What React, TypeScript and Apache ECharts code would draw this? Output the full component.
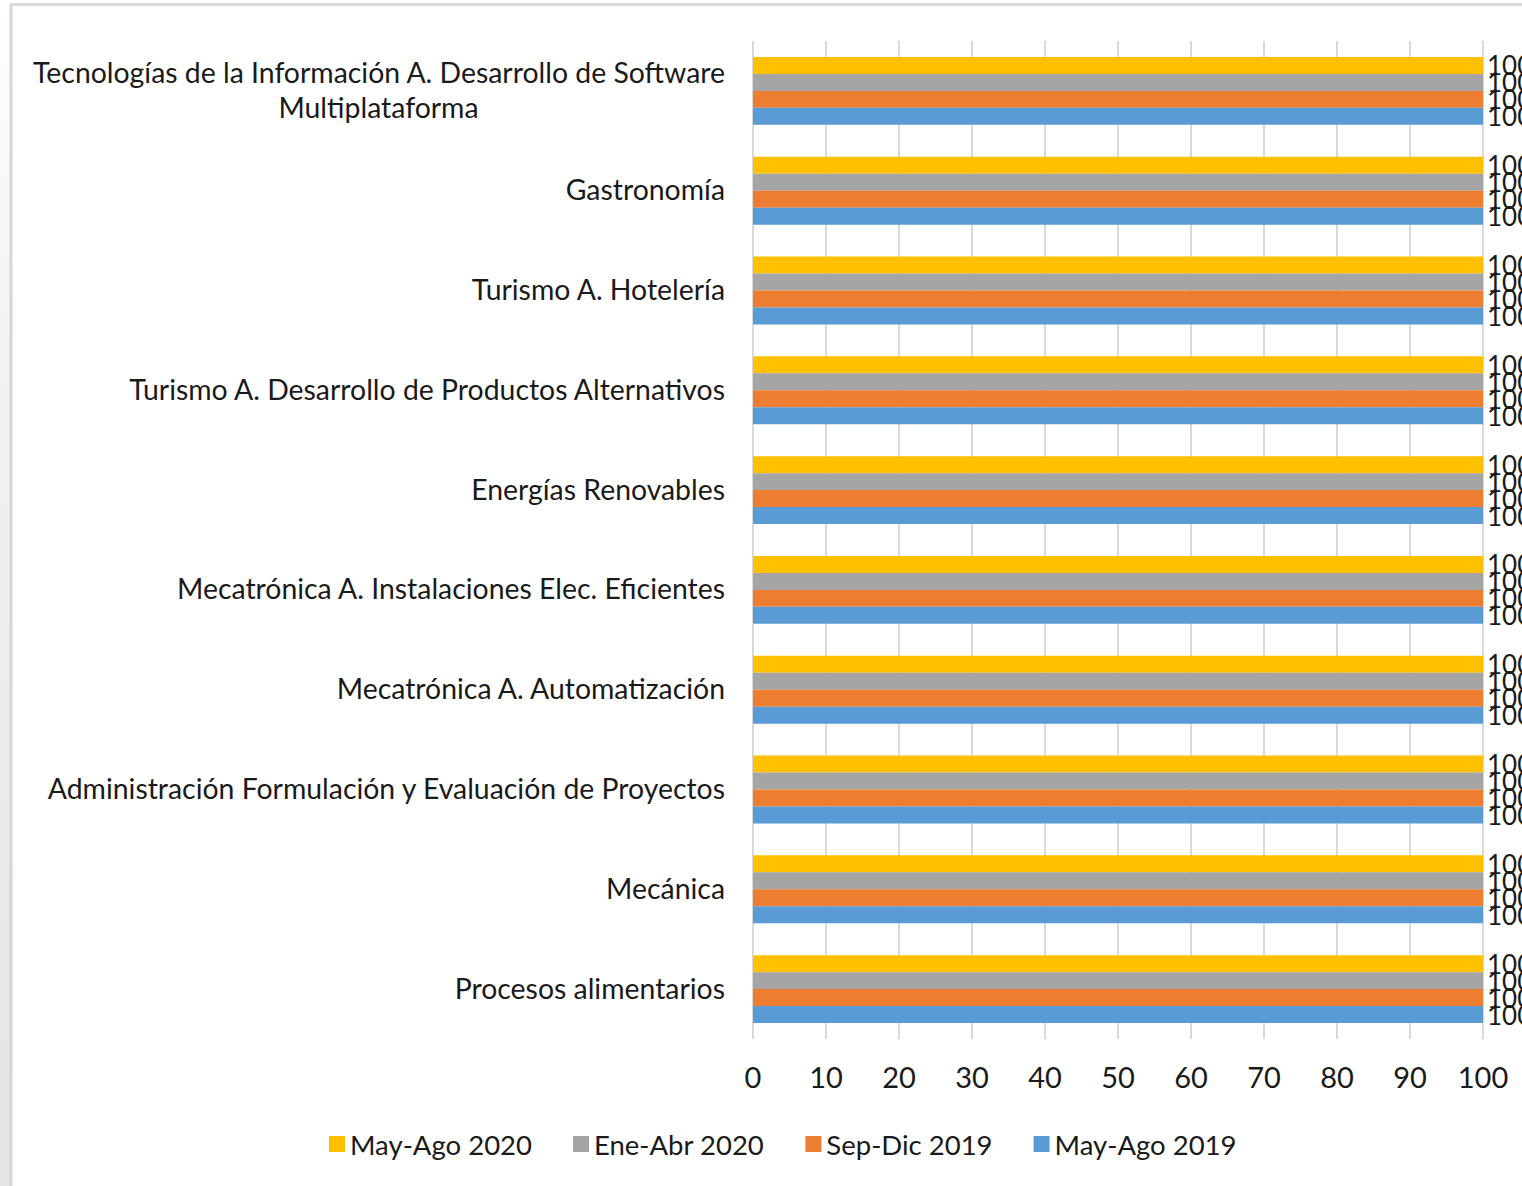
import React, { useEffect, useRef } from "react";
import * as echarts from "echarts";

const categories = [
  "Tecnologías de la Información A. Desarrollo de Software\nMultiplataforma",
  "Gastronomía",
  "Turismo A. Hotelería",
  "Turismo A. Desarrollo de Productos Alternativos",
  "Energías Renovables",
  "Mecatrónica A. Instalaciones Elec. Eficientes",
  "Mecatrónica A. Automatización",
  "Administración Formulación y Evaluación de Proyectos",
  "Mecánica",
  "Procesos alimentarios",
];

const mayAgo2020 = [100, 100, 100, 100, 100, 100, 100, 100, 100, 100];
const eneAbr2020 = [100, 100, 100, 100, 100, 100, 100, 100, 100, 100];
const sepDic2019 = [100, 100, 100, 100, 100, 100, 100, 100, 100, 100];
const mayAgo2019 = [100, 100, 100, 100, 100, 100, 100, 100, 100, 100];

// drawn top-to-bottom within each category band
const seriesNames = ["May-Ago 2020", "Ene-Abr 2020", "Sep-Dic 2019", "May-Ago 2019"];
const seriesData = [mayAgo2020, eneAbr2020, sepDic2019, mayAgo2019];
const seriesColors = ["#FFC000", "#A5A5A5", "#ED7D31", "#5B9BD5"];
const legendOrder = ["May-Ago 2020", "Ene-Abr 2020", "Sep-Dic 2019", "May-Ago 2019"];
const xTicks = [0, 10, 20, 30, 40, 50, 60, 70, 80, 90, 100];

const FONT = "Lato";
const CAT_SIZE = 28.4;
const TXT = "#1a1a1a";

export default function App() {
  const ref = useRef<HTMLDivElement>(null);
  useEffect(() => {
    if (!ref.current) return;
    const chart = echarts.init(ref.current, undefined, { renderer: "svg" });
    const ctx = document.createElement("canvas").getContext("2d")!;
    ctx.font = `${CAT_SIZE}px ${FONT}`;
    const firstLineW = Math.ceil(ctx.measureText(categories[0].split("\n")[0]).width);

    chart.setOption({
      animation: false,
      backgroundColor: "#ffffff",
      textStyle: { fontFamily: FONT },
      graphic: [
        {
          type: "rect",
          shape: { x: 0, y: 0, width: 10, height: 1186 },
          style: {
            fill: new echarts.graphic.LinearGradient(0, 0, 0, 1, [
              { offset: 0, color: "#ffffff" },
              { offset: 0.3, color: "#f2f2f2" },
              { offset: 1, color: "#e4e4e4" },
            ]),
          },
          silent: true,
        },
        {
          type: "line",
          shape: { x1: 11, y1: 4, x2: 11, y2: 1186 },
          style: { stroke: "#d6d6d6", lineWidth: 3 },
          silent: true,
        },
        {
          type: "line",
          shape: { x1: 10, y1: 4.5, x2: 1522, y2: 4.5 },
          style: { stroke: "#d9d9d9", lineWidth: 3 },
          silent: true,
        },
      ],
      grid: { left: 753, right: 39, top: 41, bottom: 147, containLabel: false },
      legend: {
        data: legendOrder,
        left: 324,
        top: 1125,
        icon: "rect",
        itemWidth: 16,
        itemHeight: 16,
        itemGap: 41,
        textStyle: { fontSize: 27.5, color: TXT, fontFamily: FONT },
      },
      xAxis: {
        type: "value",
        min: 0,
        max: 100,
        interval: 10,
        axisLine: { show: false },
        axisTick: { show: false },
        splitLine: { show: true, lineStyle: { color: "#d9d9d9", width: 2 } },
        axisLabel: {
          fontSize: 29,
          color: TXT,
          margin: 23,
          fontFamily: FONT,
          formatter: (v: number) => (xTicks.includes(v) ? String(v) : ""),
        },
      },
      yAxis: {
        type: "category",
        data: categories,
        inverse: true,
        axisLine: { show: false },
        axisTick: { show: false },
        axisLabel: {
          fontSize: CAT_SIZE,
          color: TXT,
          margin: 28,
          fontFamily: FONT,
          lineHeight: 35,
          padding: [0, 0, 3, 0],
          formatter: (v: string) => {
            const parts = v.split("\n");
            if (parts.length === 1) return v;
            return `{a|${parts[0]}}\n{c|${parts[1]}}`;
          },
          rich: {
            a: { fontSize: CAT_SIZE, color: TXT, fontFamily: FONT, lineHeight: 35 },
            c: {
              fontSize: CAT_SIZE,
              color: TXT,
              fontFamily: FONT,
              lineHeight: 35,
              width: firstLineW,
              align: "center",
            },
          },
        },
      },
      series: seriesNames.map((name, i) => ({
        name,
        type: "bar",
        data: seriesData[i],
        barGap: "0%",
        barCategoryGap: "32%",
        itemStyle: { color: seriesColors[i] },
        label: {
          show: true,
          position: "right",
          distance: 4,
          fontSize: 26,
          color: TXT,
          fontFamily: FONT,
        },
      })),
    });
    return () => chart.dispose();
  }, []);
  return (
    <div
      ref={ref}
      style={{ position: "absolute", left: 0, top: 0, width: 1522, height: 1186, background: "#fff" }}
    />
  );
}
